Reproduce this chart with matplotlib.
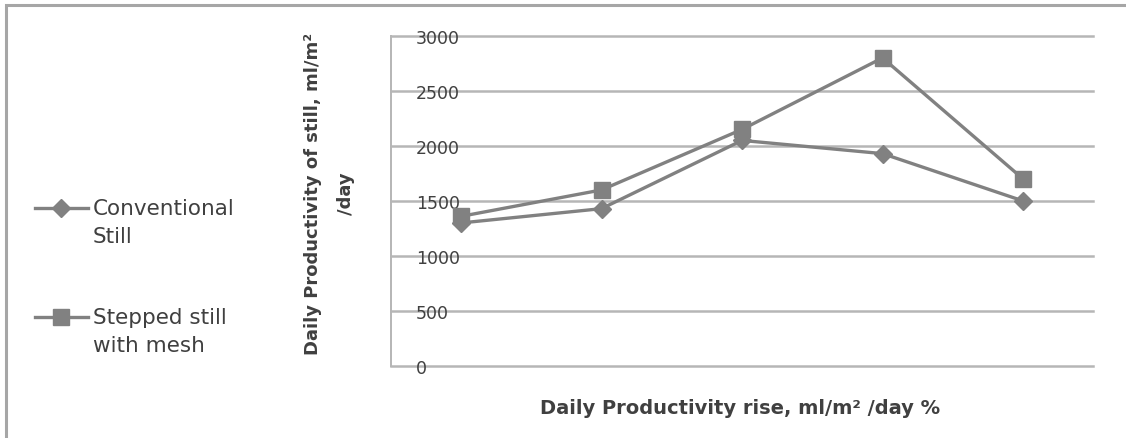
import matplotlib
matplotlib.use("Agg")
import matplotlib.pyplot as plt
from matplotlib.patches import Rectangle
from matplotlib.legend_handler import HandlerLine2D
from matplotlib.transforms import Affine2D

# daily output per test day, ml/m2/day
days = ["1", "2", "3", "4", "5"]
conventional = [1300, 1430, 2050, 1930, 1500]
stepped_mesh = [1360, 1600, 2150, 2800, 1700]
series_labels = ["Conventional\nStill", "Stepped still\nwith mesh"]
y_ticks = [0, 500, 1000, 1500, 2000, 2500, 3000]

LINE = "#818181"
GRID = "#b6b6b6"
TEXT = "#404040"
LEG_SIZE = 15.5
LEG_SPACING = 1.5


class FirstLineHandler(HandlerLine2D):
    """Line handle lifted so it sits beside the first line of a two-line label."""

    def create_artists(self, legend, orig_handle, xdescent, ydescent,
                       width, height, fontsize, trans):
        lift = Affine2D().translate(0, 0.5 * LEG_SPACING * 0.9 * fontsize)
        return super().create_artists(legend, orig_handle, xdescent, ydescent,
                                      width, height, fontsize, lift + trans)


fig = plt.figure(figsize=(11.26, 4.39), dpi=100)
ax = fig.add_axes([0.347, 0.164, 0.624, 0.752])

x = range(len(days))
l1, = ax.plot(x, conventional, color=LINE, lw=2.4, marker="D", ms=9,
              label=series_labels[0])
l2, = ax.plot(x, stepped_mesh, color=LINE, lw=2.4, marker="s", ms=11,
              label=series_labels[1])

ax.set_xlim(-0.5, len(days) - 0.5)
ax.set_ylim(0, 3000)
ax.set_yticks(y_ticks)
ax.set_xticks([])
ax.yaxis.grid(True, color=GRID, lw=1.8)
for gl in ax.get_ygridlines():
    gl.set_clip_on(False)
ax.set_axisbelow(True)
for side in ("top", "right", "bottom"):
    ax.spines[side].set_visible(False)
ax.spines["left"].set_color(GRID)
ax.spines["left"].set_linewidth(1.4)

# value labels sit inside the plot, left-aligned over the grid lines
ax.tick_params(axis="y", length=0, pad=-18, labelsize=12.5, labelcolor=TEXT)
for lab in ax.get_yticklabels():
    lab.set_horizontalalignment("left")

fig.text(0.657, 0.0706, "Daily Productivity rise, ml/m² /day %",
         ha="center", va="center", fontsize=14, fontweight="bold",
         color=TEXT)
fig.text(0.2927, 0.558, "Daily Productivity of still, ml/m²\n/day",
         ha="center", va="center", rotation=90, multialignment="center",
         fontsize=13, fontweight="bold", color=TEXT, linespacing=2.1)

leg = fig.legend(handles=[l1, l2], loc="upper left",
                 bbox_to_anchor=(0.031, 0.546), borderaxespad=0, borderpad=0,
                 frameon=False, fontsize=LEG_SIZE, labelspacing=2.8,
                 handlelength=2.45, handletextpad=0.25, labelcolor=TEXT,
                 handler_map={l1: FirstLineHandler(), l2: FirstLineHandler()})
for t in leg.get_texts():
    t.set_linespacing(LEG_SPACING)

# chart border
fig.add_artist(Rectangle((0.0055, -0.2), 1.2, 1.186, transform=fig.transFigure,
                         fill=False, ec="#a6a6a6", lw=2.2, clip_on=False))

fig.savefig("out.png", dpi=100)
